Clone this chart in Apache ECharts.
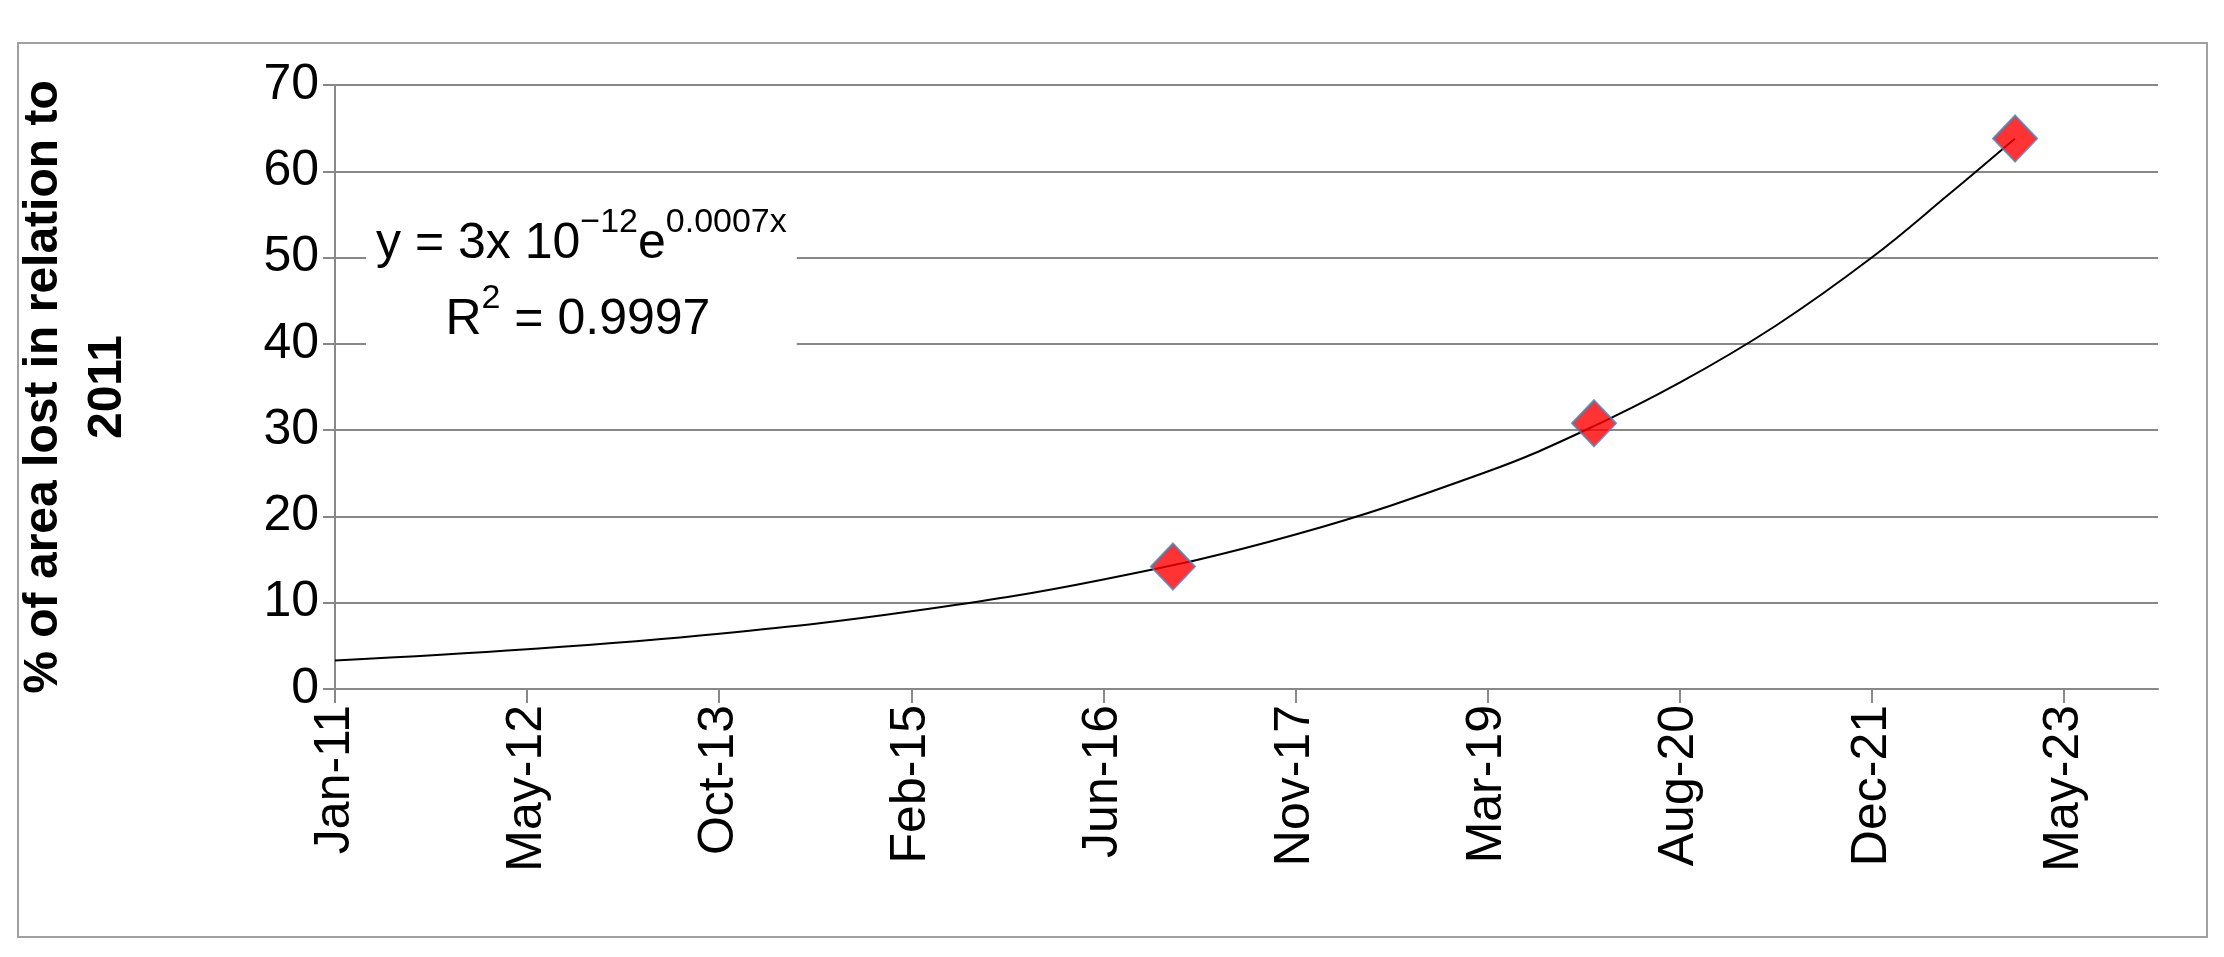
<!DOCTYPE html>
<html>
<head>
<meta charset="utf-8">
<script src="https://cdn.jsdelivr.net/npm/echarts@6/dist/echarts.min.js"></script>
<style>
  html, body { margin: 0; padding: 0; background: #fff; }
  #box { position: absolute; left: 17px; top: 42px; width: 2187px; height: 892px; border: 2px solid #a0a0a0; }
  #chart { width: 2224px; height: 957px; }
</style>
</head>
<body>
<div id="box"></div>
<div id="chart"></div>
<script>
// x values are days since the axis start (Jan-11), ticks every 500 days
const tickLabels = ['Jan-11', 'May-12', 'Oct-13', 'Feb-15', 'Jun-16', 'Nov-17', 'Mar-19', 'Aug-20', 'Dec-21', 'May-23'];
const pointDays = [2181, 3277, 4373];
const pointValues = [14.2, 30.8, 63.8];
// trend line
const trendDays = [0, 500, 1000, 1500, 2000, 2500, 3000, 3250, 3500, 3750, 4000, 4200, 4373];
const trendValues = [3.3, 4.6, 6.4, 9.0, 12.7, 17.9, 25.2, 29.9, 35.5, 42.1, 50.0, 57.3, 63.8];

(function () {
    let myChart = echarts.init(document.getElementById('chart'));
    const font = '"Liberation Sans Narrow", "Liberation Sans", sans-serif';
    let option = {
        animation: false,
        grid: { left: 335, right: 66, top: 85, bottom: 268 },
        xAxis: {
            type: 'value',
            min: 0,
            max: 4745,
            interval: 500,
            axisLine: { show: true, lineStyle: { color: '#888', width: 2 } },
            axisTick: { show: true, length: 14, lineStyle: { color: '#888', width: 2 } },
            splitLine: { show: false },
            axisLabel: {
                rotate: 90,
                fontSize: 50,
                color: '#000',
                fontFamily: 'Liberation Sans',
                margin: 16,
                showMaxLabel: false,
                formatter: function (v) { return tickLabels[Math.round(v / 500)] || ''; }
            }
        },
        yAxis: {
            type: 'value',
            min: 0,
            max: 70,
            interval: 10,
            name: '% of area lost in relation to\n2011',
            nameLocation: 'middle',
            nameGap: 195,
            nameTextStyle: { fontSize: 48, fontWeight: 'bold', color: '#000', fontFamily: 'Liberation Sans', lineHeight: 64 },
            axisLine: { show: true, lineStyle: { color: '#888', width: 2 } },
            axisTick: { show: true, length: 12, lineStyle: { color: '#888', width: 2 } },
            splitLine: { lineStyle: { color: '#888', width: 2 } },
            axisLabel: { fontSize: 50, color: '#000', fontFamily: font, margin: 16 }
        },
        graphic: [{
            type: 'text',
            left: 366,
            top: 200,
            z: 10,
            style: {
                text: '{m|y = 3x 10}{s|−12}{m|e}{s|0.0007x}\n{m|     R}{s|2}{m| = 0.9997}',
                backgroundColor: '#fff',
                padding: [6, 10, 10, 10],
                rich: {
                    m: { fontSize: 50, fontFamily: font, color: '#000', lineHeight: 76 },
                    s: { fontSize: 34, fontFamily: font, color: '#000', verticalAlign: 'top', lineHeight: 56 }
                }
            }
        }],
        series: [{
            type: 'line',
            data: trendDays.map((d, i) => [d, trendValues[i]]),
            smooth: 0.4,
            showSymbol: false,
            lineStyle: { color: '#000', width: 2 },
            z: 2
        }, {
            type: 'scatter',
            data: pointDays.map((d, i) => [d, pointValues[i]]),
            symbol: 'diamond',
            symbolSize: [44, 46],
            itemStyle: { color: '#ff0000', borderColor: '#4f81bd', borderWidth: 2 },
            z: 3
        }]
    };
    myChart.setOption(option);
    window.addEventListener('resize', function () {
        myChart.resize();
    });
})();
</script>
</body>
</html>
